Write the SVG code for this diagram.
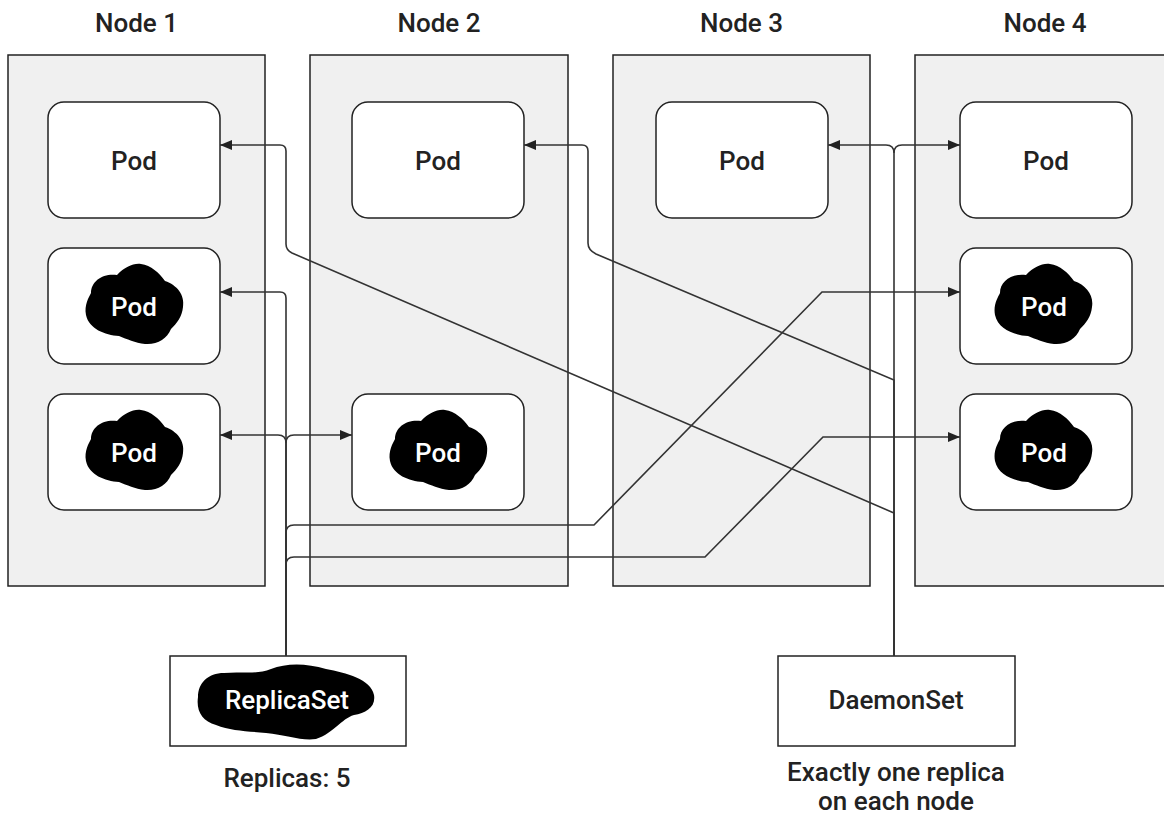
<svg xmlns="http://www.w3.org/2000/svg" width="1164" height="814" viewBox="0 0 1164 814">
<style>
.node{fill:#f0f0f0;stroke:#222;stroke-width:1.5}
.pod{fill:#fff;stroke:#222;stroke-width:1.5}
.box{fill:#fff;stroke:#222;stroke-width:1.5}
.t{font-family:Roboto,"Liberation Sans",sans-serif;font-size:26px;font-weight:500;fill:#222;text-anchor:middle}
.w{fill:#fff}
.blob{fill:#000}
.c{fill:none;stroke:#333;stroke-width:1.6}
</style>
<defs>
<marker id="arr" viewBox="0 0 12 10" refX="12" refY="5" markerWidth="12" markerHeight="10" markerUnits="userSpaceOnUse" orient="auto">
<path d="M0,0 L12,5 L0,10 z" fill="#222"/>
</marker>
<path id="pblob" d="M-18,-30 C-10,-38 -2,-42 6,-41 C16,-40 24,-32 30,-24 C42,-20 50,-10 48,2 C47,12 42,18 36,24 C32,34 22,40 10,39 C0,38 -8,34 -16,31 C-30,30 -46,24 -49,10 C-51,0 -46,-8 -44,-12 C-44,-24 -32,-32 -18,-30 Z"/>
</defs>

<g id="node1">
<rect class="node" x="8" y="55" width="257" height="531"/>
<text class="t" x="136.5" y="32">Node 1</text>
</g>
<g id="node2">
<rect class="node" x="310" y="55" width="258" height="531"/>
<text class="t" x="439" y="32">Node 2</text>
</g>
<g id="node3">
<rect class="node" x="613" y="55" width="257" height="531"/>
<text class="t" x="741.5" y="32">Node 3</text>
</g>
<g id="node4">
<rect class="node" x="915" y="55" width="257" height="531"/>
<text class="t" x="1045" y="32">Node 4</text>
</g>

<g id="pod-n1-a">
<rect class="pod" x="48" y="102" width="172" height="116" rx="16"/>
<text class="t" x="134" y="170">Pod</text>
</g>
<g id="pod-n1-b">
<rect class="pod" x="48" y="248" width="172" height="116" rx="16"/>
<use href="#pblob" class="blob" x="135" y="305"/>
<text class="t w" x="134" y="316">Pod</text>
</g>
<g id="pod-n1-c">
<rect class="pod" x="48" y="394" width="172" height="116" rx="16"/>
<use href="#pblob" class="blob" x="135" y="451"/>
<text class="t w" x="134" y="462">Pod</text>
</g>
<g id="pod-n2-a">
<rect class="pod" x="352" y="102" width="172" height="116" rx="16"/>
<text class="t" x="438" y="170">Pod</text>
</g>
<g id="pod-n2-c">
<rect class="pod" x="352" y="394" width="172" height="116" rx="16"/>
<use href="#pblob" class="blob" x="439" y="451"/>
<text class="t w" x="438" y="462">Pod</text>
</g>
<g id="pod-n3-a">
<rect class="pod" x="656" y="102" width="172" height="116" rx="16"/>
<text class="t" x="742" y="170">Pod</text>
</g>
<g id="pod-n4-a">
<rect class="pod" x="960" y="102" width="172" height="116" rx="16"/>
<text class="t" x="1046" y="170">Pod</text>
</g>
<g id="pod-n4-b">
<rect class="pod" x="960" y="248" width="172" height="116" rx="16"/>
<use href="#pblob" class="blob" x="1044" y="305"/>
<text class="t w" x="1044" y="316">Pod</text>
</g>
<g id="pod-n4-c">
<rect class="pod" x="960" y="394" width="172" height="116" rx="16"/>
<use href="#pblob" class="blob" x="1044" y="451"/>
<text class="t w" x="1044" y="462">Pod</text>
</g>

<g id="replicaset">
<rect class="box" x="170" y="656" width="236" height="90"/>
<path class="blob" transform="translate(286,701)" d="M-88,-4 C-88,-18 -78,-28 -62,-28 C-45,-30 -30,-26 -15,-32 C0,-38 20,-38 40,-32 C60,-28 85,-22 88,-6 C90,6 80,12 68,14 C55,18 48,32 30,38 C15,40 0,34 -20,32 C-40,30 -55,30 -70,24 C-84,20 -90,10 -88,-4 Z"/>
<text class="t w" x="287" y="709">ReplicaSet</text>
<text class="t" x="287" y="787">Replicas: 5</text>
</g>
<g id="daemonset">
<rect class="box" x="778" y="656" width="237" height="90"/>
<text class="t" x="896" y="709">DaemonSet</text>
<text class="t" x="896" y="781">Exactly one replica</text>
<text class="t" x="896" y="810">on each node</text>
</g>

<g id="connectors">
<path class="c" marker-end="url(#arr)" d="M286,656 V298 Q286,292 280,292 H220"/>
<path class="c" marker-end="url(#arr)" d="M286,656 V443 Q286,435 278,435 H220"/>
<path class="c" marker-end="url(#arr)" d="M286,443 Q286,435 294,435 H352"/>
<path class="c" marker-end="url(#arr)" d="M286,656 V533 Q286,525 294,525 H594 L822,292 H960"/>
<path class="c" marker-end="url(#arr)" d="M286,656 V565 Q286,557 294,557 H705 L823,437 H960"/>
<path class="c" marker-end="url(#arr)" d="M894,656 V513 L292,253 Q286,250 286,244 V151 Q286,145 280,145 H220"/>
<path class="c" marker-end="url(#arr)" d="M894,656 V380 L596,254 Q588,250 588,243 V151 Q588,145 582,145 H524"/>
<path class="c" marker-end="url(#arr)" d="M894,656 V153 Q894,145 886,145 H828"/>
<path class="c" marker-end="url(#arr)" d="M894,153 Q894,145 902,145 H960"/>
</g>
</svg>
